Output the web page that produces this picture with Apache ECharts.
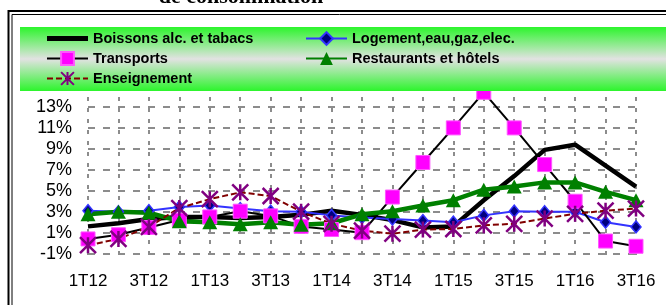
<!DOCTYPE html>
<html>
<head>
<meta charset="utf-8">
<script src="https://cdn.jsdelivr.net/npm/echarts@6/dist/echarts.min.js"></script>
<style>
  html, body { margin: 0; padding: 0; background: #fff; }
  #chart { width: 666px; height: 305px; }
</style>
</head>
<body>
<div id="chart"></div>
<script>
const quarters = ["1T12", "2T12", "3T12", "4T12", "1T13", "2T13", "3T13", "4T13", "1T14", "2T14",
  "3T14", "4T14", "1T15", "2T15", "3T15", "4T15", "1T16", "2T16", "3T16"];
const yTicks = [-1, 1, 3, 5, 7, 9, 11, 13, 15];

const boissons = [1.6, 1.9, 2.3, 2.5, 2.5, 2.4, 2.5, 2.7, 3.1, 2.7, 2.2, 1.5, 1.6, 4.1, 6.4, 8.9, 9.4, 7.4, 5.4];
const logement = [3.1, 3.0, 3.1, 3.45, 3.6, 3.3, 3.05, 3.0, 2.65, 2.45, 2.3, 2.15, 2.0, 2.65, 3.05, 3.0, 3.0, 2.0, 1.55];
const transports = [0.4, 0.8, 1.5, 2.2, 2.5, 3.05, 2.6, 1.6, 1.3, 1.0, 4.4, 7.7, 11.0, 14.4, 11.0, 7.5, 4.0, 0.2, -0.3];
const restaurants = [2.75, 3.0, 2.9, 2.1, 2.0, 1.8, 2.0, 1.75, 1.9, 2.75, 3.05, 3.6, 4.1, 5.1, 5.4, 5.8, 5.8, 4.9, 4.1];
const enseignement = [-0.2, 0.4, 1.55, 3.35, 4.2, 4.85, 4.5, 3.0, 1.85, 1.2, 0.9, 1.3, 1.35, 1.7, 1.85, 2.35, 2.8, 3.1, 3.3];

const FONT = "'Liberation Sans', Arial, sans-serif";
const legendText = { color: "#000", fontFamily: FONT, fontWeight: "bold", fontSize: 14.5 };
const asterisk = "path://M0,0L16,16M16,0L0,16M8,0L8,16";

let myChart = echarts.init(document.getElementById("chart"), null, { renderer: "canvas" });
let option = {
  animation: false,
  backgroundColor: "#fff",
  graphic: [
    // titre coupé en haut
    {
      type: "text", zlevel: 1, z: 120,
      style: { text: "de consommation", x: 241, y: -3, textAlign: "center", textVerticalAlign: "middle",
        font: "bold 22px 'Liberation Serif', 'Times New Roman', serif", fill: "#000" }
    },
    // double cadre
    { type: "rect", zlevel: 1, z: 120, shape: { x: 8.5, y: 11, width: 700, height: 350 },
      style: { fill: "none", stroke: "#000", lineWidth: 2 } },
    { type: "rect", zlevel: 1, z: 120, shape: { x: 12, y: 14.5, width: 700, height: 350 },
      style: { fill: "none", stroke: "#000", lineWidth: 1 } },
    // fond de la légende, par-dessus le tracé
    {
      type: "rect", zlevel: 1, z: 100, shape: { x: 20, y: 27, width: 660, height: 64 },
      style: {
        fill: new echarts.graphic.LinearGradient(0, 0, 0, 1, [
          { offset: 0, color: "#2cf52c" },
          { offset: 0.5, color: "#e2e2e2" },
          { offset: 1, color: "#2cf52c" }
        ])
      }
    }
  ],
  legend: [
    {
      data: [
        { name: "Boissons alc. et tabacs", icon: "path://M0,0L40,0L40,5L0,5Z", itemStyle: { color: "#000" } },
        "Transports",
        "Enseignement"
      ],
      orient: "vertical", left: 46, top: 31, padding: 0,
      itemWidth: 41, itemHeight: 16, itemGap: 5, zlevel: 1, z: 110,
      textStyle: legendText
    },
    {
      data: ["Logement,eau,gaz,elec.", "Restaurants et hôtels"],
      orient: "vertical", left: 305, top: 31, padding: 0,
      itemWidth: 41, itemHeight: 16, itemGap: 5, zlevel: 1, z: 110,
      textStyle: legendText
    }
  ],
  grid: { left: 88, right: 30, top: 86, bottom: 43, containLabel: false },
  xAxis: {
    type: "category",
    data: quarters,
    boundaryGap: false,
    axisLine: { show: false },
    axisTick: { show: false },
    axisLabel: { interval: 1, margin: 11, color: "#000", fontFamily: FONT, fontSize: 17 },
    splitLine: { show: true, interval: 0, lineStyle: { color: "#8c8c8c", width: 2, type: [4, 7] } }
  },
  yAxis: {
    type: "value",
    min: -1.8,
    max: 15,
    axisLine: { show: false },
    axisTick: { show: false, customValues: yTicks },
    axisLabel: {
      customValues: yTicks, margin: 16, color: "#000", fontFamily: FONT, fontSize: 18,
      formatter: function (v) { return v + "%"; }
    },
    splitLine: { show: true, lineStyle: { color: "#8c8c8c", width: 2, type: [7, 8] } }
  },
  series: [
    {
      name: "Boissons alc. et tabacs", type: "line", data: boissons,
      symbol: "none",
      lineStyle: { color: "#000", width: 4.5 },
      itemStyle: { color: "#000" }
    },
    {
      name: "Logement,eau,gaz,elec.", type: "line", data: logement,
      symbol: "diamond", symbolSize: [10, 12], showAllSymbol: true,
      lineStyle: { color: "#3333ff", width: 2 },
      itemStyle: { color: "#000080", borderColor: "#3333ff", borderWidth: 1.5 }
    },
    {
      name: "Transports", type: "line", data: transports,
      symbol: "rect", symbolSize: 14, showAllSymbol: true,
      lineStyle: { color: "#000", width: 2 },
      itemStyle: { color: "#ff00ff", borderColor: "#ff55ff", borderWidth: 1 }
    },
    {
      name: "Restaurants et hôtels", type: "line", data: restaurants,
      symbol: "triangle", symbolSize: [15, 14], showAllSymbol: true,
      lineStyle: { color: "#008000", width: 4.5 },
      itemStyle: { color: "#008000" }
    },
    {
      name: "Enseignement", type: "line", data: enseignement,
      symbol: asterisk, symbolSize: 16, showAllSymbol: true,
      lineStyle: { color: "#800000", width: 2, type: [6, 3] },
      itemStyle: { color: "#800080", borderColor: "#800080", borderWidth: 2.5 }
    }
  ]
};
myChart.setOption(option);
</script>
</body>
</html>
